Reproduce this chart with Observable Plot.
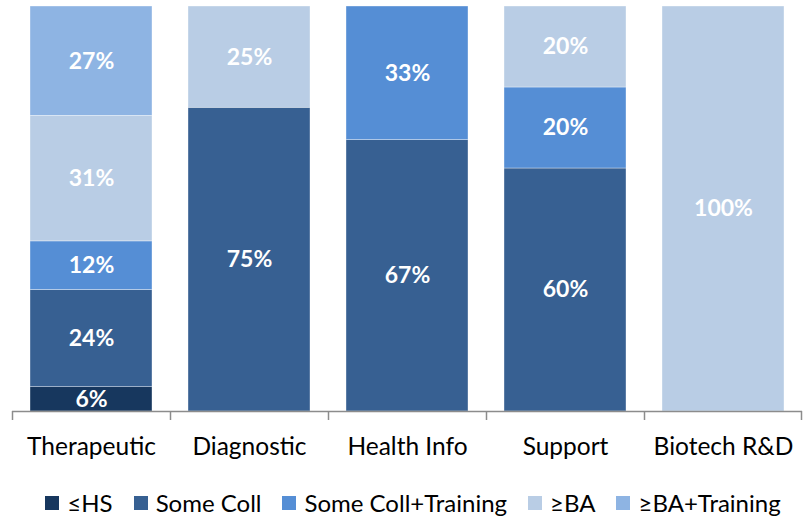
<!DOCTYPE html>
<html>
<head>
<meta charset="utf-8">
<script src="https://cdn.jsdelivr.net/npm/d3@7"></script>
<script src="https://cdn.jsdelivr.net/npm/@observablehq/plot@0.6"></script>
<style>
  body { margin: 0; background: #fff; font-family: Lato, "Open Sans", sans-serif; }
  #legend { display: flex; justify-content: center; gap: 21px; margin-top: 19px; font-size: 24px; color: #000; line-height: 28px; padding-left: 22px; }
  #legend span.item { display: flex; align-items: center; }
  #legend span.sw { width: 14px; height: 14px; margin-right: 8px; display: inline-block; }
</style>
</head>
<body>
<div id="chart"></div>
<script>
const categories = ["Therapeutic", "Diagnostic", "Health Info", "Support", "Biotech R&D"];
const series = ["≤HS", "Some Coll", "Some Coll+Training", "≥BA", "≥BA+Training"];
const colors = ["#17375e", "#376092", "#558ed5", "#b9cde5", "#8eb4e3"];
// values[series][category]
const values = {
  "≤HS":               [6, 0, 0, 0, 0],
  "Some Coll":         [24, 75, 67, 60, 0],
  "Some Coll+Training":[12, 0, 33, 20, 0],
  "≥BA":               [31, 25, 0, 20, 100],
  "≥BA+Training":      [27, 0, 0, 0, 0]
};

const data = [];
for (const s of series) {
  categories.forEach((c, i) => {
    if (values[s][i] > 0) data.push({category: c, series: s, value: values[s][i]});
  });
}

const width = 804, marginLeft = 12, marginRight = 2;
const step = (width - marginLeft - marginRight) / categories.length;

const chart = Plot.plot({
  width,
  height: 470,
  marginTop: 6,
  marginBottom: 59,
  marginLeft,
  marginRight,
  style: {fontFamily: "Lato, 'Open Sans', sans-serif", background: "#fff"},
  x: {domain: categories, paddingInner: 0.23, paddingOuter: 0.115, label: null},
  y: {domain: [0, 100], axis: null},
  color: {domain: series, range: colors},
  marks: [
    Plot.barY(data, Plot.stackY({
      x: "category", y: "value", z: "series", fill: "series", order: series,
      stroke: "white", strokeWidth: 0.6, strokeOpacity: 0.6
    })),
    Plot.text(data, Plot.stackY({
      x: "category", y: "value", z: "series", order: series,
      text: d => d.value + "%", fill: "white", fontWeight: "bold", fontSize: 23
    })),
    Plot.ruleY([0], {stroke: "#8c8c8c", strokeWidth: 1.5}),
    Plot.axisX({tickSize: 9, text: null, dx: -step / 2, stroke: "#8c8c8c", strokeWidth: 1.5}),
    Plot.axisX({ticks: [categories[categories.length - 1]], tickSize: 9, text: null, dx: step / 2 - 1, stroke: "#8c8c8c", strokeWidth: 1.5}),
    Plot.axisX({tickSize: 0, tickPadding: 26, fontSize: 24.5, fill: "#000", label: null})
  ]
});

document.getElementById("chart").appendChild(chart);

const legend = document.createElement("div");
legend.id = "legend";
series.forEach((s, i) => {
  const item = document.createElement("span");
  item.className = "item";
  const sw = document.createElement("span");
  sw.className = "sw";
  sw.style.background = colors[i];
  item.appendChild(sw);
  item.appendChild(document.createTextNode(s));
  legend.appendChild(item);
});
document.body.appendChild(legend);
</script>
</body>
</html>
